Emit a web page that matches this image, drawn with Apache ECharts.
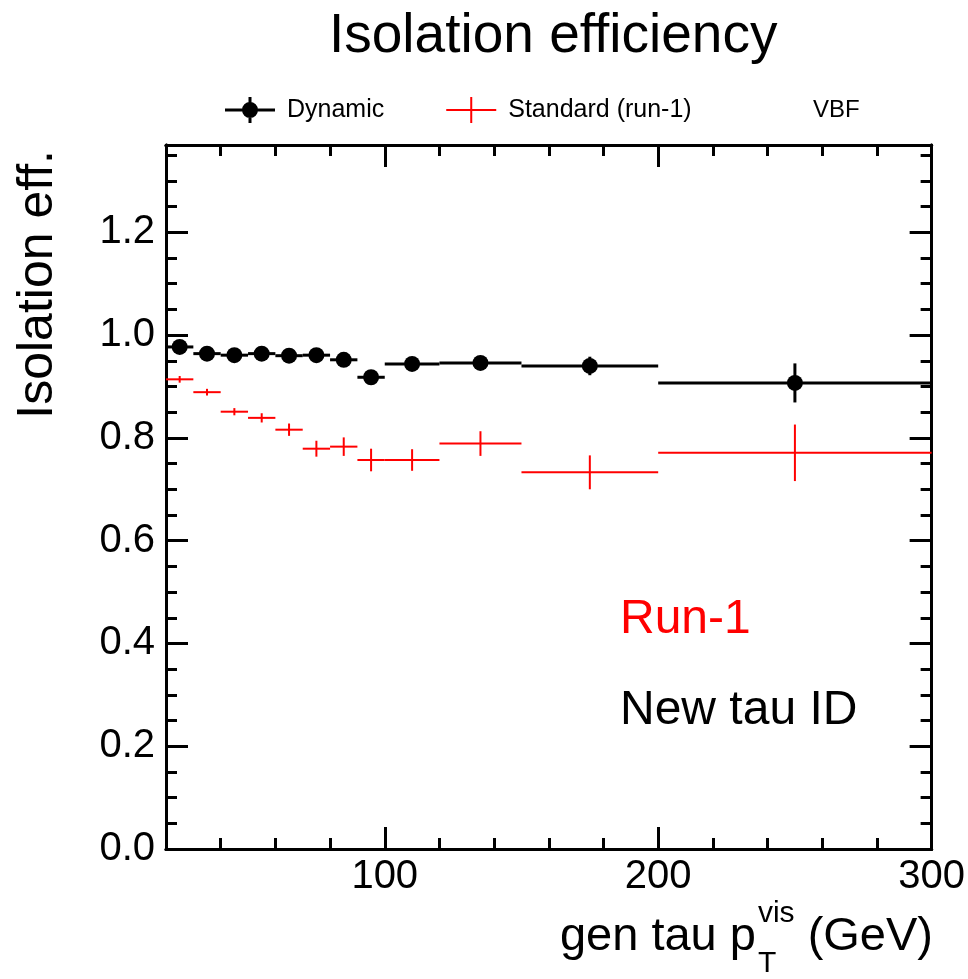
<!DOCTYPE html>
<html>
<head>
<meta charset="utf-8">
<script src="https://cdn.jsdelivr.net/npm/echarts@6/dist/echarts.min.js"></script>
<style>
  html, body { margin: 0; padding: 0; background: #ffffff; }
  #chart { width: 968px; height: 979px; }
</style>
</head>
<body>
<div id="chart"></div>
<script>
// pT bins (GeV)
const binLow    = [20, 30, 40, 50, 60, 70, 80, 90, 100, 120, 150, 200];
const binHigh   = [30, 40, 50, 60, 70, 80, 90, 100, 120, 150, 200, 300];
const binCenter = [25, 35, 45, 55, 65, 75, 85, 95, 110, 135, 175, 250];

// Dynamic isolation efficiency and its uncertainty
const dynamicEff = [0.977, 0.964, 0.961, 0.964, 0.960, 0.961, 0.952, 0.918, 0.944, 0.946, 0.940, 0.907];
const dynamicErr = [0.004, 0.004, 0.004, 0.004, 0.005, 0.005, 0.006, 0.008, 0.008, 0.013, 0.018, 0.038];

// Standard (run-1) isolation efficiency and its uncertainty
const standardEff = [0.914, 0.889, 0.851, 0.839, 0.816, 0.779, 0.783, 0.757, 0.757, 0.789, 0.733, 0.771];
const standardErr = [0.0065, 0.0065, 0.007, 0.009, 0.012, 0.0155, 0.018, 0.022, 0.021, 0.024, 0.033, 0.055];

// Axis ticks and labels
const xMajorTicks = [100, 200, 300];
const yMajorTicks = [0, 0.2, 0.4, 0.6, 0.8, 1.0, 1.2];

const FONT = 'Liberation Sans';

function toRows(eff, err) {
  return binCenter.map((c, i) => [c, eff[i], binLow[i], binHigh[i], err[i]]);
}

function errorBars(color, lineWidth, markerRadius) {
  return function (params, api) {
    const x = api.value(0), y = api.value(1);
    const lo = api.value(2), hi = api.value(3), e = api.value(4);
    const pL = api.coord([lo, y]), pR = api.coord([hi, y]);
    const pT = api.coord([x, y + e]), pB = api.coord([x, y - e]);
    const pC = api.coord([x, y]);
    const children = [
      { type: 'line', shape: { x1: pL[0], y1: pL[1], x2: pR[0], y2: pR[1] },
        style: { stroke: color, lineWidth: lineWidth } },
      { type: 'line', shape: { x1: pT[0], y1: pT[1], x2: pB[0], y2: pB[1] },
        style: { stroke: color, lineWidth: lineWidth } }
    ];
    if (markerRadius > 0) {
      children.push({ type: 'circle', shape: { cx: pC[0], cy: pC[1], r: markerRadius },
        style: { fill: color } });
    }
    return { type: 'group', children: children };
  };
}

const lineStyle = { color: '#000', width: 3 };

function xAxis(position, ticks, len, labels) {
  const ax = {
    type: 'value', position: position, min: 20, max: 300, interval: 20,
    axisLine: { show: true, onZero: false, lineStyle: lineStyle },
    axisTick: { show: true, inside: true, length: len, lineStyle: lineStyle },
    axisLabel: { show: false },
    splitLine: { show: false }
  };
  if (ticks) ax.axisTick.customValues = ticks;
  if (labels) {
    ax.axisLabel = { show: true, customValues: xMajorTicks, margin: 8, color: '#000',
      fontFamily: FONT, fontSize: 40 };
  }
  return ax;
}

function yAxis(position, ticks, len, labels) {
  const ax = {
    type: 'value', position: position, min: 0, max: 1.37, interval: 0.05,
    axisLine: { show: true, onZero: false, lineStyle: lineStyle },
    axisTick: { show: true, inside: true, length: len, lineStyle: lineStyle },
    axisLabel: { show: false },
    splitLine: { show: false }
  };
  if (ticks) ax.axisTick.customValues = ticks;
  if (labels) {
    ax.axisLabel = { show: true, customValues: yMajorTicks, margin: 11, color: '#000',
      fontFamily: FONT, fontSize: 40, formatter: v => v.toFixed(1) };
  }
  return ax;
}

// x axis title with superscript / subscript, right-aligned at the frame edge
const measureCtx = document.createElement('canvas').getContext('2d');
function textWidth(t, size) {
  measureCtx.font = size + 'px "' + FONT + '"';
  return measureCtx.measureText(t).width;
}
const titleSize = 47, scriptSize = 30;
const wMain = textWidth('gen tau p', titleSize);
const wScript = Math.max(textWidth('vis', scriptSize), textWidth('T', scriptSize));
const wSpace = textWidth(' ', titleSize);
const wUnit = textWidth('(GeV)', titleSize);
const xTitleRight = 933;
const xTitleStart = xTitleRight - (wMain + 2 + wScript + wSpace + wUnit);

const chart = echarts.init(document.getElementById('chart'), null, { renderer: 'canvas' });

chart.setOption({
  backgroundColor: '#ffffff',
  animation: false,
  title: {
    text: 'Isolation efficiency', left: 329, top: 9, padding: 0,
    textStyle: { fontFamily: FONT, fontSize: 55, fontWeight: 'normal', color: '#000' }
  },
  legend: {
    left: 225, top: 97, padding: 0, itemWidth: 50, itemHeight: 26, itemGap: 62,
    selectedMode: false,
    textStyle: { fontFamily: FONT, fontSize: 25, color: '#000', padding: [0, 0, 0, 7] },
    data: [
      { name: 'Dynamic',
        icon: 'path://M0,11.5h50v3h-50z M23.5,0h3v26h-3z M17,13a8,8 0 1 1 16,0a8,8 0 1 1 -16,0z' },
      { name: 'Standard (run-1)',
        icon: 'path://M0,12h50v2h-50z M24,0h2v26h-2z' }
    ]
  },
  grid: { left: 166, right: 36, top: 145, bottom: 130, containLabel: false },
  xAxis: [
    xAxis('bottom', null, 11, true),
    xAxis('bottom', xMajorTicks, 22, false),
    xAxis('top', null, 11, false),
    xAxis('top', xMajorTicks, 22, false)
  ],
  yAxis: [
    yAxis('left', null, 11, true),
    yAxis('left', yMajorTicks, 22, false),
    yAxis('right', null, 11, false),
    yAxis('right', yMajorTicks, 22, false)
  ],
  series: [
    {
      name: 'Standard (run-1)', type: 'custom', xAxisIndex: 0, yAxisIndex: 0,
      itemStyle: { color: '#ff0000' },
      encode: { x: 0, y: 1 },
      renderItem: errorBars('#ff0000', 2, 0),
      data: toRows(standardEff, standardErr)
    },
    {
      name: 'Dynamic', type: 'custom', xAxisIndex: 0, yAxisIndex: 0,
      itemStyle: { color: '#000000' },
      encode: { x: 0, y: 1 },
      renderItem: errorBars('#000000', 3, 8),
      data: toRows(dynamicEff, dynamicErr)
    }
  ],
  graphic: [
    { type: 'text', left: 813, top: 97, style: { text: 'VBF', fontFamily: FONT, fontSize: 24,
      fill: '#000', lineHeight: 26, verticalAlign: 'top' } },
    { type: 'text', x: 38, y: 150, rotation: Math.PI / 2,
      style: { text: 'Isolation eff.', fontFamily: FONT, fontSize: 50, fill: '#000',
        align: 'right', verticalAlign: 'middle' } },
    { type: 'text', x: xTitleStart, y: 937,
      style: { text: 'gen tau p', fontFamily: FONT, fontSize: titleSize, fill: '#000',
        align: 'left', verticalAlign: 'middle' } },
    { type: 'text', x: xTitleStart + wMain + 2, y: 914,
      style: { text: 'vis', fontFamily: FONT, fontSize: scriptSize, fill: '#000',
        align: 'left', verticalAlign: 'middle' } },
    { type: 'text', x: xTitleStart + wMain + 2, y: 964,
      style: { text: 'T', fontFamily: FONT, fontSize: scriptSize, fill: '#000',
        align: 'left', verticalAlign: 'middle' } },
    { type: 'text', x: xTitleRight, y: 937,
      style: { text: '(GeV)', fontFamily: FONT, fontSize: titleSize, fill: '#000',
        align: 'right', verticalAlign: 'middle' } },
    { type: 'text', x: 620, y: 620,
      style: { text: 'Run-1', fontFamily: FONT, fontSize: 48, fill: '#ff0000',
        align: 'left', verticalAlign: 'middle' } },
    { type: 'text', x: 620, y: 711,
      style: { text: 'New tau ID', fontFamily: FONT, fontSize: 48, fill: '#000',
        align: 'left', verticalAlign: 'middle' } }
  ]
});
</script>
</body>
</html>
